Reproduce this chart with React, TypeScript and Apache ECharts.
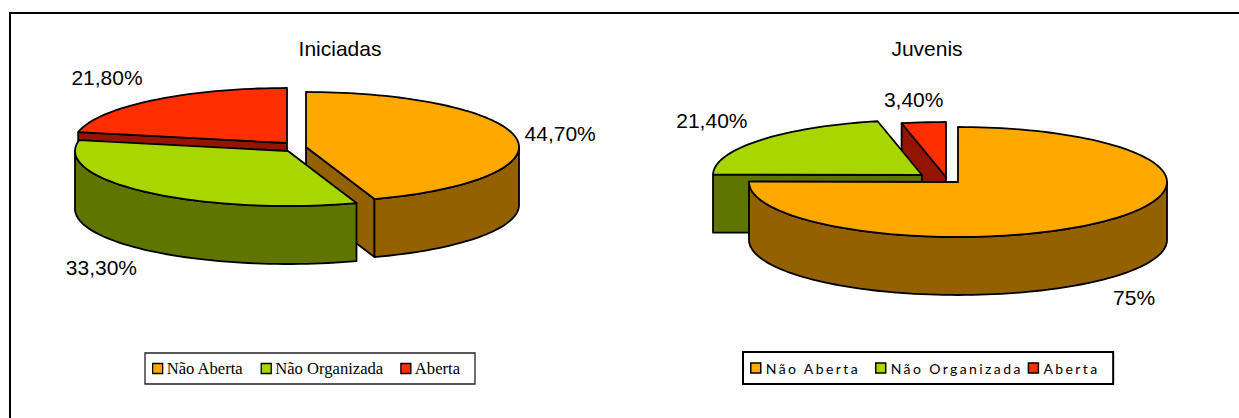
import React, { useEffect, useRef } from "react";
import * as echarts from "echarts";

const categories = ["Não Aberta", "Não Organizada", "Aberta"];
const chartTitles = ["Iniciadas", "Juvenis"];
const iniciadasValues = [44.7, 33.3, 21.8];
const juvenisValues = [75, 21.4, 3.4];
const iniciadasLabels = ["44,70%", "33,30%", "21,80%"];
const juvenisLabels = ["75%", "21,40%", "3,40%"];
const topColors = ["#FFA800", "#A8D600", "#FF2E00"];
const wallColors = ["#936100", "#5E7500", "#941400"];

// pie projection: exploded apex of each slice and label nudges from the rim
const iniciadasLayout = {
  rx: 213, ry: 55, depth: 58,
  drawOrder: [0, 2, 1],
  apex: [[306, 147], [288, 151], [287, 143]],
  labelOffset: [[44, -5], [-46, 75.5], [-45, -23]],
};
const juvenisLayout = {
  rx: 209, ry: 55, depth: 58,
  drawOrder: [2, 1, 0],
  apex: [[958, 182], [922, 175], [946, 177]],
  labelOffset: [[29, 76], [-48, -20], [-10, -23]],
};

const rad = (d: number) => (d * Math.PI) / 180;

function sliceRenderer(layout: any, idx: number, label: string) {
  return (_params: any, api: any) => {
    const a0 = api.value(0);
    const a1 = api.value(1);
    const [cx, cy] = layout.apex[idx];
    const { rx, ry, depth } = layout;
    const pt = (deg: number, dz = 0) => [cx + rx * Math.sin(rad(deg)), cy - ry * Math.cos(rad(deg)) + dz];
    const arc = (from: number, to: number, dz = 0) => {
      const n = Math.max(2, Math.ceil(Math.abs(to - from) / 2));
      const pts: number[][] = [];
      for (let i = 0; i <= n; i++) pts.push(pt(from + ((to - from) * i) / n, dz));
      return pts;
    };
    const stroke = { stroke: "#000", lineWidth: 1.8, lineJoin: "round" };
    const children: any[] = [];
    const wall = wallColors[idx];
    const radialFace = (deg: number) => ({
      type: "polygon",
      shape: { points: [[cx, cy], pt(deg), pt(deg, depth), [cx, cy + depth]] },
      style: { fill: wall, ...stroke },
    });
    if (Math.sin(rad(a0)) < -1e-6) children.push(radialFace(a0));
    if (Math.sin(rad(a1)) > 1e-6) children.push(radialFace(a1));
    const f0 = Math.max(a0, 90);
    const f1 = Math.min(a1, 270);
    if (f1 > f0) {
      children.push({
        type: "polygon",
        shape: { points: [...arc(f0, f1), ...arc(f1, f0, depth)] },
        style: { fill: wall, ...stroke },
      });
    }
    children.push({
      type: "polygon",
      shape: { points: [[cx, cy], ...arc(a0, a1)] },
      style: { fill: topColors[idx], ...stroke },
    });
    const mid = pt((a0 + a1) / 2);
    const off = layout.labelOffset[idx];
    children.push({
      type: "text",
      style: {
        x: mid[0] + off[0],
        y: mid[1] + off[1],
        text: label,
        fill: "#000",
        font: "21px 'Liberation Sans'",
        align: "center",
        verticalAlign: "middle",
      },
    });
    return { type: "group", children };
  };
}

function pieSeries(values: number[], labels: string[], layout: any) {
  const total = values.reduce((s, v) => s + v, 0);
  let cum = 0;
  const out: any[] = [];
  values.forEach((v, i) => {
    const a0 = (cum / total) * 360;
    cum += v;
    const a1 = (cum / total) * 360;
    out.push({
      type: "custom",
      name: categories[i],
      coordinateSystem: "none",
      silent: true,
      itemStyle: { color: topColors[i] },
      data: [[a0, a1, v]],
      renderItem: sliceRenderer(layout, i, labels[i]),
    });
  });
  // painter's order
  return layout.drawOrder.map((i: number) => out[i]);
}

const titleStyle = { fontFamily: "Liberation Sans", fontSize: 21, fontWeight: "normal", color: "#000" };

export default function App() {
  const ref = useRef<HTMLDivElement>(null);
  useEffect(() => {
    const chart = echarts.init(ref.current!, undefined, { renderer: "svg", width: 1239, height: 418 });
    chart.setOption({
      animation: false,
      backgroundColor: "#fff",
      title: [
        { text: chartTitles[0], left: 340, top: 38, padding: 0, textAlign: "center", textStyle: titleStyle },
        { text: chartTitles[1], left: 927, top: 38, padding: 0, textAlign: "center", textStyle: titleStyle },
      ],
      legend: [
        {
          data: categories, left: 145, top: 353, orient: "horizontal",
          icon: "rect", itemWidth: 10, itemHeight: 10, itemGap: 17,
          padding: [7, 15, 7, 7], borderColor: "#222", borderWidth: 1.3, selectedMode: false,
          itemStyle: { borderColor: "#000", borderWidth: 1.3 },
          textStyle: { fontFamily: "Liberation Serif", fontSize: 16.6, color: "#000", padding: [0, 0, 0, -1] },
        },
        {
          data: categories, left: 743, top: 352, orient: "horizontal",
          icon: "rect", itemWidth: 10, itemHeight: 10, itemGap: 38.5,
          padding: [9, 28, 9, 7], borderColor: "#000", borderWidth: 2, selectedMode: false,
          itemStyle: { borderColor: "#000", borderWidth: 1.5 },
          textStyle: { fontFamily: "Lato", fontSize: 14, color: "#000" },
        },
      ],
      graphic: [
        { type: "line", shape: { x1: 10, y1: 13, x2: 1239, y2: 13 }, style: { stroke: "#000", lineWidth: 2 }, silent: true },
        { type: "line", shape: { x1: 10, y1: 12, x2: 10, y2: 418 }, style: { stroke: "#000", lineWidth: 2 }, silent: true },
      ],
      series: [
        ...pieSeries(iniciadasValues, iniciadasLabels, iniciadasLayout),
        ...pieSeries(juvenisValues, juvenisLabels, juvenisLayout),
      ],
    });
    ref.current!.querySelectorAll("text").forEach((t: any) => {
      if ((t.getAttribute("style") || "").includes("Lato")) t.style.letterSpacing = "2.4px";
    });
    return () => chart.dispose();
  }, []);
  return <div ref={ref} style={{ position: "fixed", left: 0, top: 0, width: 1239, height: 418 }} />;
}
